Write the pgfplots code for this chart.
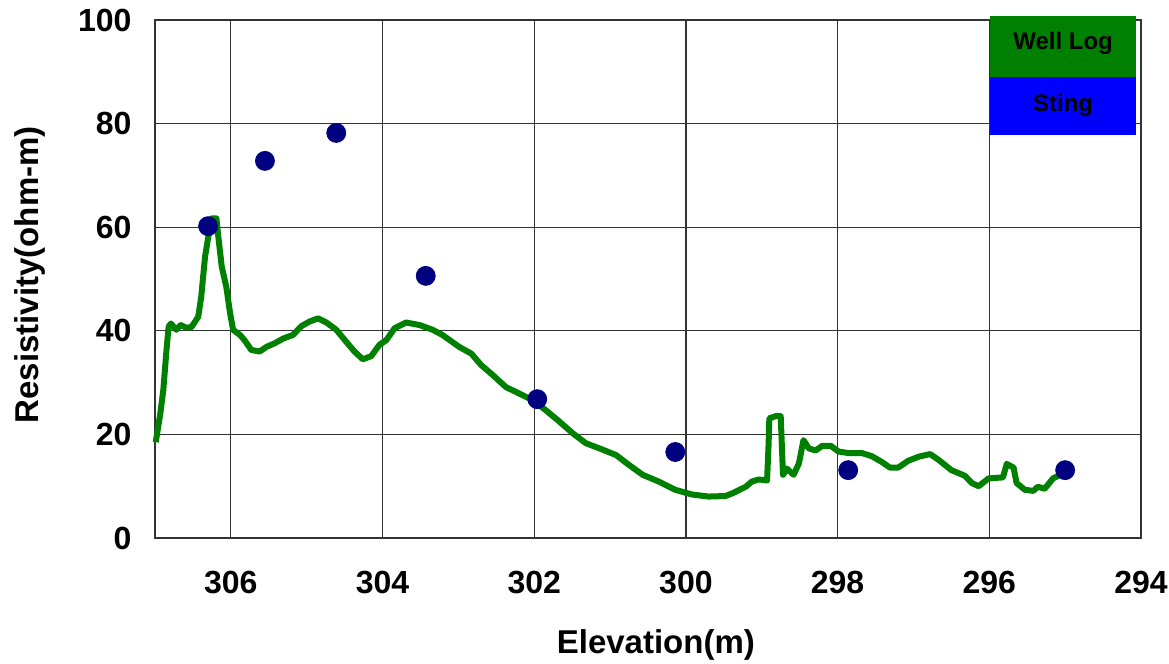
\documentclass[border=0pt]{standalone}
\usepackage{pgfplots}
\pgfplotsset{compat=1.18}
\usepackage{fontspec}
\setmainfont{Liberation Sans}
\definecolor{wellgreen}{RGB}{0,128,0}
\definecolor{stingnavy}{RGB}{0,0,128}
\definecolor{stingblue}{RGB}{0,0,255}
\begin{document}
\begin{tikzpicture}
\begin{axis}[
  scale only axis,
  width=493pt, height=259pt,
  xmin=294, xmax=307, ymin=0, ymax=100,
  x dir=reverse,
  xtick={294,296,...,306},
  ytick={0,20,...,100},
  grid=major,
  major grid style={black!80, line width=0.6pt},
  axis line style={black!80, line width=0.6pt},
  major tick length=0pt,
  /pgf/number format/assume math mode=true,
  tick label style={font=\fontsize{16}{19}\selectfont\bfseries},
  xticklabel style={yshift=-13.2pt},
  yticklabel style={xshift=-8.2pt},
  xlabel={Elevation(m)},
  ylabel={Resistivity(ohm-m)},
  label style={font=\fontsize{16.5}{19}\selectfont\bfseries},
  xlabel style={at={(axis description cs:0.508,-0.207)}, anchor=center},
  ylabel style={at={(axis description cs:-0.1267,0.508)}, anchor=center},
  clip=false,
]
\addplot[wellgreen, line width=3pt, line join=round, mark=none] coordinates {
(306.99,18.5) (306.93,24) (306.89,28.6) (306.85,36) (306.82,40.8) (306.79,41.4)
(306.72,40.2) (306.66,41.1) (306.59,40.6) (306.52,40.7) (306.43,42.7) (306.39,46.6)
(306.34,54.3) (306.29,58.8) (306.25,61.7) (306.19,61.7) (306.17,58.8) (306.12,52.4)
(306.06,48.5) (306.01,43.4) (305.97,40.2) (305.88,39.2) (305.82,38.2) (305.73,36.3)
(305.62,36.0) (305.53,36.9) (305.42,37.6) (305.31,38.5) (305.18,39.2) (305.07,40.9)
(304.96,41.8) (304.85,42.4) (304.74,41.6) (304.61,40.2) (304.48,37.9) (304.37,36.0)
(304.26,34.5) (304.15,35.1) (304.04,37.3) (303.95,38.2) (303.84,40.5) (303.69,41.6)
(303.51,41.1) (303.34,40.2) (303.21,39.2) (302.99,36.9) (302.83,35.6) (302.70,33.4)
(302.55,31.5) (302.37,29.1) (302.24,28.2) (302.02,26.6) (301.85,24.7) (301.67,22.5)
(301.49,20.2) (301.32,18.3) (301.14,17.3) (300.92,16.0) (300.75,14.1) (300.57,12.2)
(300.36,10.9) (300.14,9.3) (299.92,8.4) (299.70,8.0) (299.48,8.1) (299.39,8.6)
(299.21,9.9) (299.13,10.9) (299.04,11.3) (298.93,11.1) (298.91,18) (298.90,23.1)
(298.80,23.6) (298.75,23.5) (298.72,12.2) (298.67,13.4) (298.58,12.2) (298.51,14.4)
(298.45,18.9) (298.38,17.3) (298.29,16.9) (298.20,17.8) (298.09,17.8) (297.99,16.7)
(297.86,16.4) (297.68,16.4) (297.55,15.8) (297.42,14.7) (297.31,13.6) (297.20,13.6)
(297.07,14.9) (296.93,15.7) (296.78,16.2) (296.67,15.1) (296.50,13.1) (296.32,12.0)
(296.23,10.6) (296.14,10.0) (296.01,11.5) (295.82,11.7) (295.77,14.3) (295.68,13.6)
(295.64,10.6) (295.53,9.3) (295.42,9.1) (295.36,9.9) (295.27,9.5) (295.16,11.5)
(295.09,12.0) (295.04,12.6)
};
\addplot[only marks, mark=*, mark size=4.75pt, mark options={draw=stingnavy, fill=stingnavy}] coordinates {
(306.30,60.2) (305.55,72.8) (304.61,78.2) (303.43,50.6) (301.96,26.8) (300.14,16.6) (297.86,13.1) (295.0,13.1)
};
\fill[wellgreen] (rel axis cs:0.847,0.890) rectangle (rel axis cs:0.995,1.008);
\fill[stingblue] (rel axis cs:0.847,0.778) rectangle (rel axis cs:0.995,0.890);
\node[font=\fontsize{12}{14}\selectfont\bfseries] at (rel axis cs:0.921,0.954) {Well Log};
\node[font=\fontsize{12}{14}\selectfont\bfseries] at (rel axis cs:0.921,0.836) {Sting};
\end{axis}
\pgfresetboundingbox
\path (-77.5pt,-63pt) rectangle (507pt,269pt);
\end{tikzpicture}
\end{document}
